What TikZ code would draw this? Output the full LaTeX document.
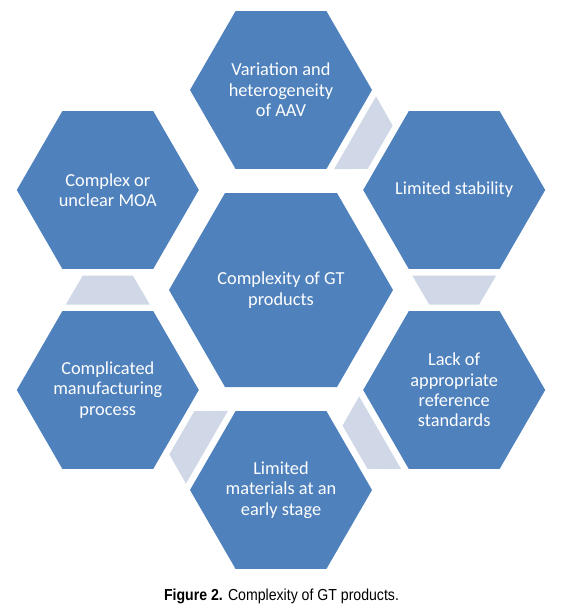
\documentclass[tikz,border=0pt]{standalone}
\usepackage{fontspec}
\setmainfont{Carlito}
\newfontfamily\capfont[FakeStretch=0.885]{Liberation Sans}
\definecolor{HEXblue}{HTML}{4F81BD}
\definecolor{HEXpale}{HTML}{D0D8E8}
\usetikzlibrary{shapes.geometric, calc}

\begin{document}
\begin{tikzpicture}[x=1bp, y=-1bp,
   hexcell/.style={regular polygon, regular polygon sides=6, fill=HEXblue,
      inner sep=0pt, minimum size=182bp, text=white, align=center,
      font=\fontsize{18.4}{20.5}\selectfont},
   hexcore/.style={hexcell, minimum size=224bp},
   link/.style={fill=HEXpale}]
   \useasboundingbox (0,0) rectangle (563,616);
   % Centre hexagon
   \node[hexcore] (gt) at (281,290) {Complexity of GT\\products};
   % Ring of six, clockwise from the top
   \node[hexcell] (aav) at (281,90) {Variation and\\heterogeneity\\of AAV};
   \node[hexcell] (stab) at (454.2,190) {\makebox[0pt]{Limited stability}};
   \node[hexcell] (refs) at (454.2,390) {Lack of\\appropriate\\reference\\standards};
   \node[hexcell] (mat) at (281,490) {Limited\\materials at an\\early stage};
   \node[hexcell] (manuf) at (107.8,390) {Complicated\\manufacturing\\process};
   \node[hexcell] (moa) at (107.8,190) {Complex or\\unclear MOA};
   % Pale links between neighbours (wide end at the source)
   \foreach \a/\b in {aav/stab, stab/refs, refs/mat, mat/manuf, manuf/moa} {
      \coordinate (w) at ($(\a)!0.4275!(\b)$);
      \coordinate (n) at ($(\a)!0.5725!(\b)$);
      \fill[link] ($(w)!42bp!90:(\b)$) -- ($(n)!25bp!90:(\b)$)
         -- ($(n)!25bp!-90:(\b)$) -- ($(w)!42bp!-90:(\b)$) -- cycle;
   }
   % Caption
   \node[anchor=base, font=\capfont\fontsize{16}{19}\selectfont] (cap)
      at (281.5,600) {\textbf{Figure 2.} Complexity of GT products.};
\end{tikzpicture}
\end{document}
